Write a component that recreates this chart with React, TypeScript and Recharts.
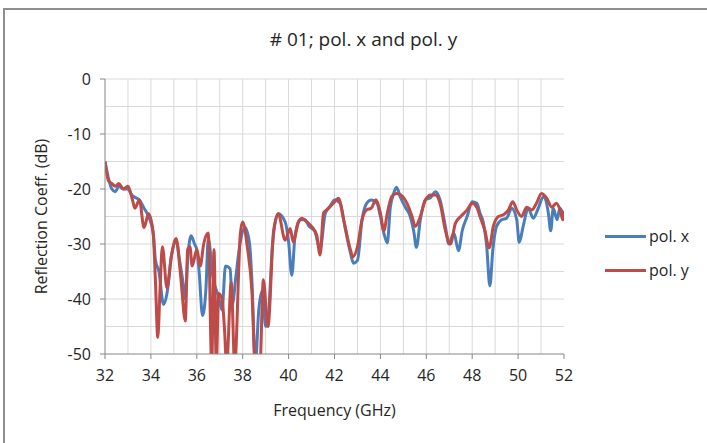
import { LineChart, Line, XAxis, YAxis, CartesianGrid, Label } from "recharts";

// pol. x (blue) — frequency in GHz, reflection in dB
const freqX = [
  32.0, 32.15, 32.3, 32.45, 32.6, 32.8, 33.0, 33.15, 33.3, 33.5, 33.7, 33.9, 34.1, 34.2, 34.35, 34.55,
  34.7, 34.9, 35.1, 35.25, 35.4, 35.5, 35.6, 35.75, 35.9, 36.0, 36.1, 36.25, 36.4, 36.5, 36.7, 36.94,
  37.1, 37.25, 37.45, 37.55, 37.7, 37.9, 38.1, 38.3, 38.4, 38.55, 38.7, 38.85, 39.0, 39.1, 39.3, 39.55,
  39.85, 40.0, 40.14, 40.28, 40.5, 40.7, 40.9, 41.15, 41.37, 41.6, 41.8, 42.0, 42.25, 42.45, 42.7, 42.83,
  43.0, 43.2, 43.4, 43.6, 43.85, 44.0, 44.15, 44.3, 44.43, 44.58, 44.7, 44.87, 45.1, 45.3, 45.45, 45.57,
  45.74, 45.96, 46.2, 46.4, 46.6, 46.83, 46.98, 47.2, 47.4, 47.57, 47.78, 48.0, 48.2, 48.34, 48.48, 48.63,
  48.77, 48.9, 49.06, 49.28, 49.5, 49.72, 49.94, 50.05, 50.22, 50.44, 50.66, 50.88, 51.1, 51.32, 51.42, 51.53,
  51.7, 51.82, 52.0,
];
const polX = [
  -15, -18, -20, -20.5, -19.5, -20, -20, -21, -21.5, -22, -23.5, -25, -28, -33, -35, -41,
  -39, -32, -29.5, -33, -37, -40, -33, -28.5, -30, -31, -35, -43, -38, -29, -36, -39.5,
  -42, -34, -34.5, -41, -36, -29.5, -27, -30, -36.5, -52, -42, -38.5, -45, -44, -30, -24.5,
  -26, -29.6, -35.7, -28.5, -25.6, -25.6, -26.8, -27.8, -31, -24.4, -23.2, -22, -22.6, -26.8, -31.7, -33.5,
  -33, -25.6, -22.6, -22, -22.6, -25, -28, -29.8, -23.4, -20.8, -19.7, -21.5, -23.4, -25, -27.6, -30.6,
  -25.6, -22, -21.5, -20.5, -22, -26.8, -30, -28, -31.2, -27.5, -25, -22.3, -22.6, -24.4, -26, -30.4,
  -37.6, -31, -26.8, -25.6, -25.3, -23.5, -25.6, -29.7, -26.8, -23.5, -25.3, -23.5, -21.4, -24.4, -27.6, -23.5,
  -25.6, -23.5, -25,
];

// pol. y (red)
const freqY = [
  32.0, 32.15, 32.3, 32.45, 32.6, 32.8, 33.0, 33.2, 33.3, 33.5, 33.7, 33.9, 34.1, 34.2, 34.3, 34.4,
  34.5, 34.7, 34.9, 35.1, 35.3, 35.5, 35.6, 35.7, 35.8, 36.0, 36.15, 36.3, 36.5, 36.65, 36.75, 36.85,
  36.95, 37.1, 37.2, 37.3, 37.5, 37.65, 37.9, 38.0, 38.2, 38.4, 38.55, 38.75, 38.9, 39.1, 39.35, 39.55,
  39.85, 40.07, 40.2, 40.43, 40.58, 40.8, 41.0, 41.23, 41.37, 41.52, 41.66, 41.95, 42.17, 42.4, 42.69, 42.8,
  43.0, 43.2, 43.4, 43.6, 43.8, 44.0, 44.15, 44.3, 44.5, 44.72, 44.95, 45.16, 45.38, 45.52, 45.74, 45.96,
  46.2, 46.4, 46.6, 46.83, 47.05, 47.27, 47.5, 47.78, 48.0, 48.2, 48.34, 48.55, 48.74, 48.92, 49.14, 49.36,
  49.58, 49.77, 49.94, 50.15, 50.37, 50.6, 50.8, 51.02, 51.25, 51.47, 51.66, 51.83, 51.95, 52.0,
];
const polY = [
  -15, -18.5, -19, -19.5, -19, -20, -19.5, -22, -23.5, -22, -27, -24.5, -28, -37, -47, -38,
  -30.5, -38, -32, -29, -36, -44, -31, -30.5, -34, -31, -34, -30, -28, -52, -31, -52,
  -39, -40, -45, -52, -37, -52, -28, -26, -30.5, -38.5, -52, -52, -36.5, -45, -27.5, -24.5,
  -29.3, -27.2, -29.6, -26, -25.3, -26, -26.8, -28.5, -32, -24.4, -23.8, -22.6, -21.7, -25.6, -31, -32.3,
  -30.5, -25.6, -23.8, -23.5, -22, -24.4, -27.6, -24.4, -21.3, -20.8, -21.3, -22.6, -25, -26.8, -25, -22,
  -21.1, -21.1, -22.6, -27.5, -30, -26.2, -25, -23.8, -22.6, -23.3, -25, -27.5, -30.7, -26.8, -25, -24.7,
  -23.8, -22.3, -23.8, -25, -23.3, -23.8, -22.6, -20.8, -21.7, -23.3, -22.6, -23.8, -25.6, -24,
];

const xTicks = [32, 34, 36, 38, 40, 42, 44, 46, 48, 50, 52];
const yTicks = [0, -10, -20, -30, -40, -50];
const xGrid = [33, 34, 35, 36, 37, 38, 39, 40, 41, 42, 43, 44, 45, 46, 47, 48, 49, 50, 51];
const yGrid = [0, -5, -10, -15, -20, -25, -30, -35, -40, -45];

const dataX = freqX.map((f, i) => ({ f, v: polX[i] }));
const dataY = freqY.map((f, i) => ({ f, v: polY[i] }));

const BLUE = "#4a7ebb";
const RED = "#be4b48";
const FONT = "'Open Sans', sans-serif";
const TXT = "#262626";

const legendItems = [
  { c: BLUE, t: "pol. x" },
  { c: RED, t: "pol. y" },
];

export default function App() {
  return (
    <div style={{ position: "absolute", left: 0, top: 0, width: 707, height: 443, background: "#fff", overflow: "hidden" }}>
      <div
        style={{
          position: "absolute",
          left: 3,
          top: 8,
          width: 720,
          height: 450,
          borderLeft: "2px solid #8e8e8e",
          borderTop: "2px solid #8e8e8e",
        }}
      />
      <div
        style={{
          position: "absolute",
          left: 0,
          top: 26,
          width: 727,
          textAlign: "center",
          fontFamily: FONT,
          fontSize: 19,
          color: TXT,
        }}
      >
        # 01; pol. x and pol. y
      </div>
      <LineChart
        width={707}
        height={443}
        margin={{ top: 79, left: 65, right: 143, bottom: 59 }}
        style={{ position: "absolute", left: 0, top: 0 }}
      >
        <CartesianGrid
          stroke="#d9d9d9"
          strokeWidth={1}
          verticalValues={xGrid}
          horizontalValues={yGrid}
        />
        <XAxis
          type="number"
          dataKey="f"
          domain={[32, 52]}
          ticks={xTicks}
          height={30}
          allowDataOverflow
          stroke="#868686"
          tickSize={5}
          tickMargin={11}
          tick={{ fill: TXT, fontSize: 16, fontFamily: FONT }}
        >
          <Label
            value="Frequency (GHz)"
            position="bottom"
            offset={21}
            style={{ fill: TXT, fontSize: 16, fontFamily: FONT }}
          />
        </XAxis>
        <YAxis
          type="number"
          domain={[-50, 0]}
          ticks={yTicks}
          width={40}
          allowDataOverflow
          stroke="#868686"
          tickSize={5}
          tickMargin={9}
          tick={{ fill: TXT, fontSize: 16, fontFamily: FONT }}
        >
          <Label
            value="Reflection Coeff. (dB)"
            angle={-90}
            position="left"
            offset={24}
            style={{ fill: TXT, fontSize: 16, fontFamily: FONT, textAnchor: "middle" }}
          />
        </YAxis>
        <Line
          data={dataX}
          dataKey="v"
          name="pol. x"
          type="monotone"
          stroke={BLUE}
          strokeWidth={3}
          dot={false}
          isAnimationActive={false}
        />
        <Line
          data={dataY}
          dataKey="v"
          name="pol. y"
          type="monotone"
          stroke={RED}
          strokeWidth={3}
          dot={false}
          isAnimationActive={false}
        />
      </LineChart>
      <div style={{ position: "absolute", left: 605, top: 219, fontFamily: FONT, fontSize: 16, color: TXT }}>
        {legendItems.map((it) => (
          <div key={it.t} style={{ display: "flex", alignItems: "center", height: 34 }}>
            <div style={{ width: 41, height: 3, background: it.c, marginRight: 3 }} />
            <span>{it.t}</span>
          </div>
        ))}
      </div>
    </div>
  );
}
